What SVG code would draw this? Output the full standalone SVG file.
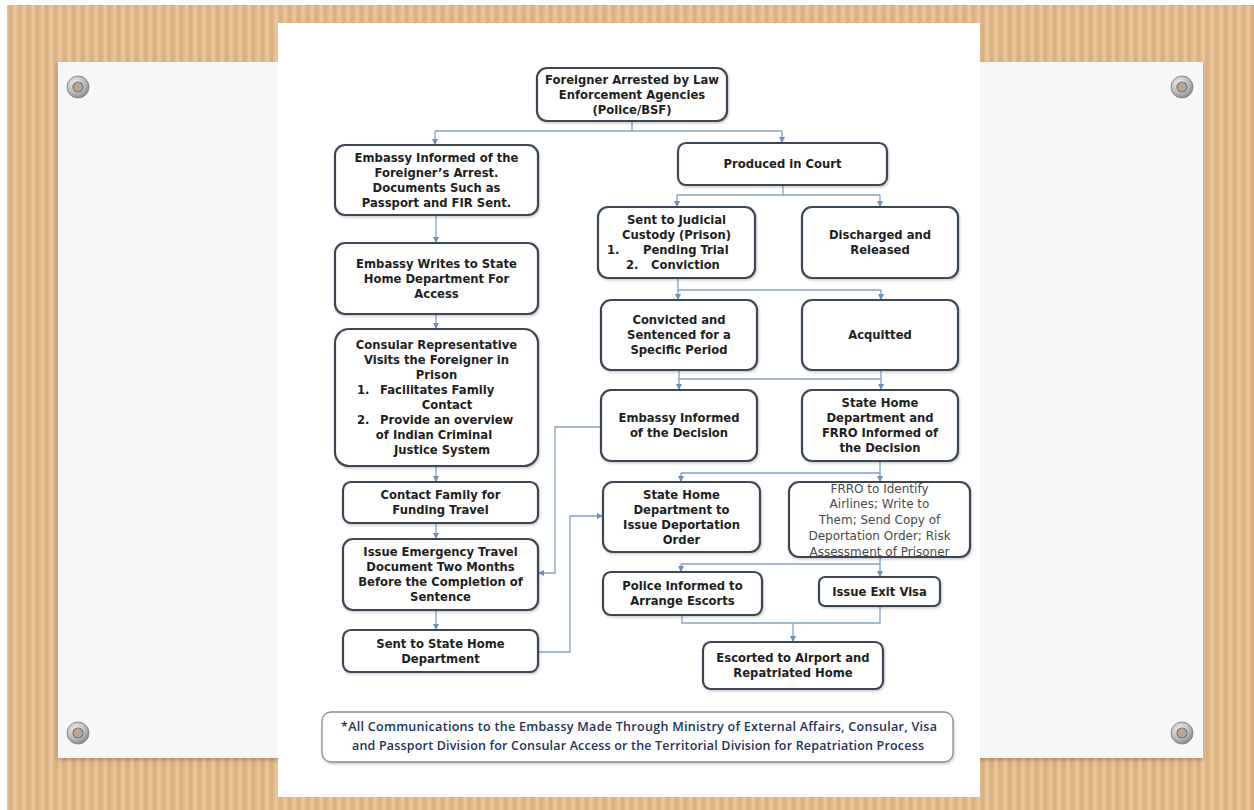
<svg xmlns="http://www.w3.org/2000/svg" width="1254" height="810" viewBox="0 0 1254 810">
<defs>
<pattern id="tan" x="0" y="0" width="9" height="10" patternUnits="userSpaceOnUse">
<rect width="9" height="10" fill="#e3ba8c"/>
<rect x="0" width="3" height="10" fill="#d9b081"/>
<rect x="5" width="2.5" height="10" fill="#ebc69b"/>
</pattern>
<radialGradient id="grom" cx="0.4" cy="0.35" r="0.7">
<stop offset="0" stop-color="#f2f2f2"/>
<stop offset="0.6" stop-color="#bdbdbd"/>
<stop offset="1" stop-color="#7d7d7d"/>
</radialGradient>
<filter id="sh" x="-5%" y="-5%" width="110%" height="115%">
<feDropShadow dx="0" dy="2" stdDeviation="2" flood-color="#000" flood-opacity="0.25"/>
</filter>
<filter id="bs" x="-10%" y="-10%" width="120%" height="130%">
<feDropShadow dx="1" dy="1.5" stdDeviation="1" flood-color="#000" flood-opacity="0.2"/>
</filter>
<marker id="ar" markerUnits="userSpaceOnUse" markerWidth="6" markerHeight="6" refX="6" refY="3" orient="auto">
<path d="M0,0 L6,3 L0,6 z" fill="#6f8fba"/>
</marker>
<style>
.box{fill:#ffffff;stroke:#3a4654;stroke-width:2.2;filter:url(#bs)}
.t{font-family:'DejaVu Sans',sans-serif;font-weight:bold;font-size:11.6px;fill:#1e1e1e;text-anchor:middle}
.s{text-anchor:start}
.r{font-family:'DejaVu Sans',sans-serif;font-weight:normal;font-size:12px;fill:#4a4a4a;text-anchor:middle}
.c{fill:none;stroke:#86a0c4;stroke-width:1.3}
.fn{font-family:'Open Sans',sans-serif;font-weight:600;font-size:12.5px;fill:#22335a;text-anchor:middle}
</style>
</defs>
<rect width="1254" height="810" fill="#ffffff"/>
<rect x="7" y="5" width="1247" height="805" fill="url(#tan)"/>
<rect x="58" y="62" width="1145" height="696" fill="#f7f7f7" filter="url(#sh)"/>
<rect x="278" y="23" width="702" height="774" fill="#ffffff"/>
<g id="grommets">
<circle cx="78" cy="87" r="11" fill="url(#grom)" stroke="#8a8a8a" stroke-width="1"/>
<circle cx="78" cy="87" r="5" fill="#b9a593" stroke="#777" stroke-width="1.2"/>
<circle cx="1182" cy="87" r="11" fill="url(#grom)" stroke="#8a8a8a" stroke-width="1"/>
<circle cx="1182" cy="87" r="5" fill="#b9a593" stroke="#777" stroke-width="1.2"/>
<circle cx="78" cy="733" r="11" fill="url(#grom)" stroke="#8a8a8a" stroke-width="1"/>
<circle cx="78" cy="733" r="5" fill="#b9a593" stroke="#777" stroke-width="1.2"/>
<circle cx="1182" cy="733" r="11" fill="url(#grom)" stroke="#8a8a8a" stroke-width="1"/>
<circle cx="1182" cy="733" r="5" fill="#b9a593" stroke="#777" stroke-width="1.2"/>
</g>
<g id="connectors">
<path class="c" d="M632,121 V131 M435,131 H782"/>
<path class="c" d="M435,131 V145" marker-end="url(#ar)"/>
<path class="c" d="M782,131 V143" marker-end="url(#ar)"/>
<path class="c" d="M436,215 V243" marker-end="url(#ar)"/>
<path class="c" d="M436,314 V329" marker-end="url(#ar)"/>
<path class="c" d="M436,466 V482" marker-end="url(#ar)"/>
<path class="c" d="M436,523 V539" marker-end="url(#ar)"/>
<path class="c" d="M436,610 V630" marker-end="url(#ar)"/>
<path class="c" d="M783,185 V195 M677,195 H880"/>
<path class="c" d="M677,195 V207" marker-end="url(#ar)"/>
<path class="c" d="M880,195 V207" marker-end="url(#ar)"/>
<path class="c" d="M678,278 V290 H881"/>
<path class="c" d="M678,290 V300" marker-end="url(#ar)"/>
<path class="c" d="M881,290 V300" marker-end="url(#ar)"/>
<path class="c" d="M679,370 V379 H881"/>
<path class="c" d="M679,379 V390" marker-end="url(#ar)"/>
<path class="c" d="M881,370 V390" marker-end="url(#ar)"/>
<path class="c" d="M880,461 V473 H681"/>
<path class="c" d="M681,473 V482" marker-end="url(#ar)"/>
<path class="c" d="M880,473 V482" marker-end="url(#ar)"/>
<path class="c" d="M880,557 V564 H681"/>
<path class="c" d="M681,564 V572" marker-end="url(#ar)"/>
<path class="c" d="M880,564 V577" marker-end="url(#ar)"/>
<path class="c" d="M682,615 V623 H880 V606"/>
<path class="c" d="M793,623 V642" marker-end="url(#ar)"/>
<path class="c" d="M601,427 H555 V573 H538" marker-end="url(#ar)"/>
<path class="c" d="M538,652 H570 V516 H603" marker-end="url(#ar)"/>
</g>
<g id="n-arrested">
<rect class="box" x="537" y="68" width="190" height="53" rx="10"/>
<text class="t" x="632" y="84">Foreigner Arrested by Law</text>
<text class="t" x="632" y="99">Enforcement Agencies</text>
<text class="t" x="632" y="114">(Police/BSF)</text>
</g>
<g id="n-embassy-informed">
<rect class="box" x="335" y="145" width="203" height="70" rx="10"/>
<text class="t" x="436.5" y="161.5">Embassy Informed of the</text>
<text class="t" x="436.5" y="176.5">Foreigner’s Arrest.</text>
<text class="t" x="436.5" y="191.5">Documents Such as</text>
<text class="t" x="436.5" y="206.5">Passport and FIR Sent.</text>
</g>
<g id="n-embassy-writes">
<rect class="box" x="335" y="243" width="203" height="71" rx="10"/>
<text class="t" x="436.5" y="267.5">Embassy Writes to State</text>
<text class="t" x="436.5" y="282.5">Home Department For</text>
<text class="t" x="436.5" y="297.5">Access</text>
</g>
<g id="n-consular">
<rect class="box" x="335" y="329" width="203" height="137" rx="14"/>
<text class="t" x="436.5" y="349">Consular Representative</text>
<text class="t" x="436.5" y="364">Visits the Foreigner in</text>
<text class="t" x="436.5" y="379">Prison</text>
<text class="t s" x="357" y="394">1.</text>
<text class="t s" x="380" y="394">Facilitates Family</text>
<text class="t" x="447" y="409">Contact</text>
<text class="t s" x="357" y="424">2.</text>
<text class="t s" x="380" y="424">Provide an overview</text>
<text class="t" x="434" y="439">of Indian Criminal</text>
<text class="t" x="442" y="454">Justice System</text>
</g>
<g id="n-contact-family">
<rect class="box" x="343" y="482" width="195" height="41" rx="8"/>
<text class="t" x="440.5" y="499">Contact Family for</text>
<text class="t" x="440.5" y="514">Funding Travel</text>
</g>
<g id="n-emergency">
<rect class="box" x="343" y="539" width="195" height="71" rx="10"/>
<text class="t" x="440.5" y="556">Issue Emergency Travel</text>
<text class="t" x="440.5" y="571">Document Two Months</text>
<text class="t" x="440.5" y="586">Before the Completion of</text>
<text class="t" x="440.5" y="601">Sentence</text>
</g>
<g id="n-sent-state">
<rect class="box" x="343" y="630" width="195" height="42" rx="8"/>
<text class="t" x="440.5" y="647.5">Sent to State Home</text>
<text class="t" x="440.5" y="662.5">Department</text>
</g>
<g id="n-produced">
<rect class="box" x="678" y="143" width="209" height="42" rx="8"/>
<text class="t" x="782.5" y="168">Produced in Court</text>
</g>
<g id="n-judicial">
<rect class="box" x="598" y="207" width="157" height="71" rx="10"/>
<text class="t" x="676.5" y="224">Sent to Judicial</text>
<text class="t" x="676.5" y="239">Custody (Prison)</text>
<text class="t s" x="607" y="254">1.</text>
<text class="t s" x="643" y="254">Pending Trial</text>
<text class="t s" x="626" y="269">2.</text>
<text class="t s" x="651" y="269">Conviction</text>
</g>
<g id="n-discharged">
<rect class="box" x="802" y="207" width="156" height="71" rx="10"/>
<text class="t" x="880" y="239">Discharged and</text>
<text class="t" x="880" y="254">Released</text>
</g>
<g id="n-convicted">
<rect class="box" x="601" y="300" width="156" height="70" rx="10"/>
<text class="t" x="679" y="324">Convicted and</text>
<text class="t" x="679" y="339">Sentenced for a</text>
<text class="t" x="679" y="354">Specific Period</text>
</g>
<g id="n-acquitted">
<rect class="box" x="802" y="300" width="156" height="70" rx="10"/>
<text class="t" x="880" y="339">Acquitted</text>
</g>
<g id="n-embassy-decision">
<rect class="box" x="601" y="390" width="156" height="71" rx="10"/>
<text class="t" x="679" y="422">Embassy Informed</text>
<text class="t" x="679" y="437">of the Decision</text>
</g>
<g id="n-state-frro">
<rect class="box" x="802" y="390" width="156" height="71" rx="10"/>
<text class="t" x="880" y="407">State Home</text>
<text class="t" x="880" y="422">Department and</text>
<text class="t" x="880" y="437">FRRO Informed of</text>
<text class="t" x="880" y="452">the Decision</text>
</g>
<g id="n-deportation">
<rect class="box" x="603" y="482" width="157" height="70" rx="10"/>
<text class="t" x="681.5" y="498.5">State Home</text>
<text class="t" x="681.5" y="513.5">Department to</text>
<text class="t" x="681.5" y="528.5">Issue Deportation</text>
<text class="t" x="681.5" y="543.5">Order</text>
</g>
<g id="n-frro-airlines">
<rect class="box" x="789" y="482" width="181" height="75" rx="10"/>
<text class="r" x="879.5" y="492.5">FRRO to Identify</text>
<text class="r" x="879.5" y="508">Airlines; Write to</text>
<text class="r" x="879.5" y="524">Them; Send Copy of</text>
<text class="r" x="879.5" y="539.5">Deportation Order; Risk</text>
<text class="r" x="879.5" y="555.5">Assessment of Prisoner</text>
</g>
<g id="n-police">
<rect class="box" x="603" y="572" width="159" height="43" rx="8"/>
<text class="t" x="682.5" y="590">Police Informed to</text>
<text class="t" x="682.5" y="605">Arrange Escorts</text>
</g>
<g id="n-exit-visa">
<rect class="box" x="819" y="577" width="121" height="29" rx="6"/>
<text class="t" x="879.5" y="595.5">Issue Exit Visa</text>
</g>
<g id="n-escorted">
<rect class="box" x="703" y="642" width="180" height="47" rx="8"/>
<text class="t" x="793" y="662">Escorted to Airport and</text>
<text class="t" x="793" y="677">Repatriated Home</text>
</g>
<g id="n-footnote">
<rect x="322" y="712" width="631" height="50" rx="9" fill="#ffffff" stroke="#8c8c8c" stroke-width="1.3" filter="url(#bs)"/>
<text class="fn" x="639" y="731" textLength="596">*All Communications to the Embassy Made Through Ministry of External Affairs, Consular, Visa</text>
<text class="fn" x="638" y="750" textLength="572">and Passport Division for Consular Access or the Territorial Division for Repatriation Process</text>
</g>
</svg>
